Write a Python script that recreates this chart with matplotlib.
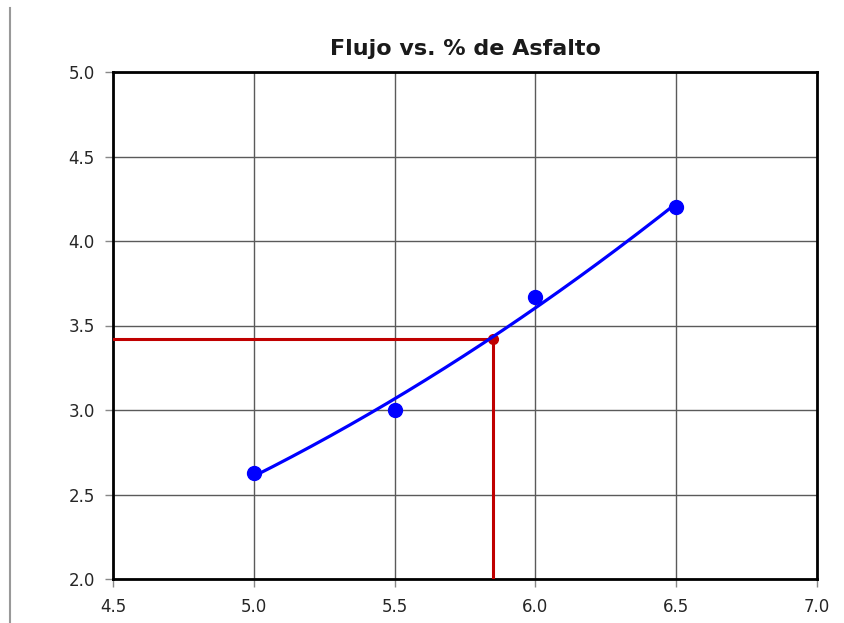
import numpy as np
from matplotlib import pyplot as plt
from matplotlib.lines import Line2D

plt.rcParams['font.family'] = ['DejaVu Sans']

# datos del ensayo
asfalto = [5.0, 5.5, 6.0, 6.5]
flujo = [2.63, 3.00, 3.67, 4.20]

# valor leído para el óptimo
asfalto_opt = 5.85
flujo_opt = 3.42

x_ticks = [4.5, 5.0, 5.5, 6.0, 6.5, 7.0]
y_ticks = [2.0, 2.5, 3.0, 3.5, 4.0, 4.5, 5.0]

fig = plt.figure(figsize=(8.45, 6.23), dpi=100)
ax = fig.add_axes([113 / 845, 44 / 623, 704 / 845, 507 / 623])

# curva de ajuste (polinomio de 2do grado)
coef = np.polyfit(asfalto, flujo, 2)
xs = np.linspace(asfalto[0], asfalto[-1], 200)
ax.plot(xs, np.polyval(coef, xs), color='#0000ff', lw=2.3, zorder=4)
ax.plot(asfalto, flujo, 'o', color='#0000ff', ms=10, zorder=5)

# líneas del óptimo
ax.plot([x_ticks[0], asfalto_opt], [flujo_opt, flujo_opt],
        color='#c00000', lw=2.2, zorder=3)
ax.plot([asfalto_opt, asfalto_opt], [y_ticks[0], flujo_opt],
        color='#c00000', lw=2.2, zorder=3)
ax.plot([asfalto_opt], [flujo_opt], 'o', color='#c00000', ms=7, zorder=3)

ax.set_xlim(x_ticks[0], x_ticks[-1])
ax.set_ylim(y_ticks[0], y_ticks[-1])
ax.set_xticks(x_ticks)
ax.set_yticks(y_ticks)
ax.set_xticklabels([f'{v:.1f}' for v in x_ticks])
ax.set_yticklabels([f'{v:.1f}' for v in y_ticks])
ax.grid(True, color='#5a5a5a', lw=1.0)
ax.set_axisbelow(True)
ax.tick_params(length=6, width=1, color='#888888', labelsize=12,
               labelcolor='#262626')
ax.tick_params(axis='x', pad=8)
ax.tick_params(axis='y', pad=7)
for s in ax.spines.values():
    s.set_linewidth(2)
    s.set_color('black')

ax.set_title('Flujo vs. % de Asfalto', fontsize=16, fontweight='bold',
             color='#1a1a1a', pad=12)

# borde izquierdo de la captura
fig.add_artist(Line2D([10 / 845, 10 / 845], [0, 1 - 8 / 623],
                      color='#999999', lw=1.5))

fig.savefig('out.png', dpi=100)
